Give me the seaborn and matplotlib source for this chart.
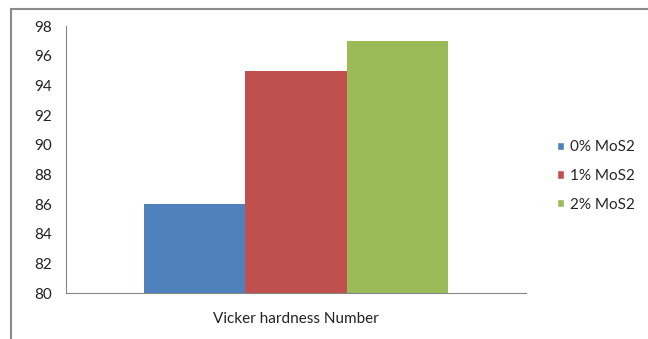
import matplotlib
matplotlib.use("Agg")
import matplotlib.pyplot as plt
import matplotlib.patches as mpatches
import pandas as pd
import seaborn as sns

# data
category = ["Vicker hardness Number"]
series = ["0% MoS2", "1% MoS2", "2% MoS2"]
values = [86, 95, 97]
colors = ["#4F81BD", "#C0504D", "#9BBB59"]
yticks = [80, 82, 84, 86, 88, 90, 92, 94, 96, 98]

df = pd.DataFrame({"cat": category * len(series), "series": series, "value": values})

sns.set_style("white")
plt.rcParams["font.family"] = ["Lato", "DejaVu Sans"]

fig = plt.figure(figsize=(6.48, 3.39), dpi=100)
ax = fig.add_axes([66 / 648, 1 - 293 / 339, 460 / 648, 267 / 339])

sns.barplot(data=df, x="cat", y="value", hue="series", palette=colors,
            width=0.663, saturation=1, ax=ax, legend=False, linewidth=0)

ax.set_xlim(-0.5, 0.5)
ax.set_ylim(80, 98)
ax.set_yticks(yticks)
ax.set_xticks([-0.5, 0.5])
ax.set_xticklabels(["", ""])
ax.text(0.5, -0.072, category[0], transform=ax.transAxes, ha="center", va="top",
        fontsize=11, color="#222222")
ax.set_xlabel("")
ax.set_ylabel("")

for s in ["top", "right"]:
    ax.spines[s].set_visible(False)
for s in ["left", "bottom"]:
    ax.spines[s].set_color("#868686")
    ax.spines[s].set_linewidth(0.8)
ax.tick_params(axis="both", direction="out", length=4, width=0.8, color="#868686",
               labelsize=11, labelcolor="#222222")
ax.tick_params(axis="y", pad=6)

handles = [mpatches.Patch(facecolor=c, label=s) for c, s in zip(colors, series)]
fig.legend(handles=handles, loc="center left", bbox_to_anchor=(543 / 648, 1 - 176 / 339),
           frameon=False, fontsize=11, handlelength=0.5, handleheight=0.5,
           handletextpad=0.35, labelspacing=0.95)

# outer chart frame (top and left edges visible)
frame = mpatches.Rectangle((11 / 648, -0.2), 1.2, 1 - 9 / 339 + 0.2, transform=fig.transFigure,
                           fill=False, edgecolor="#8a8a8a", linewidth=1.5)
fig.patches.append(frame)

fig.savefig("out.png", dpi=100)
